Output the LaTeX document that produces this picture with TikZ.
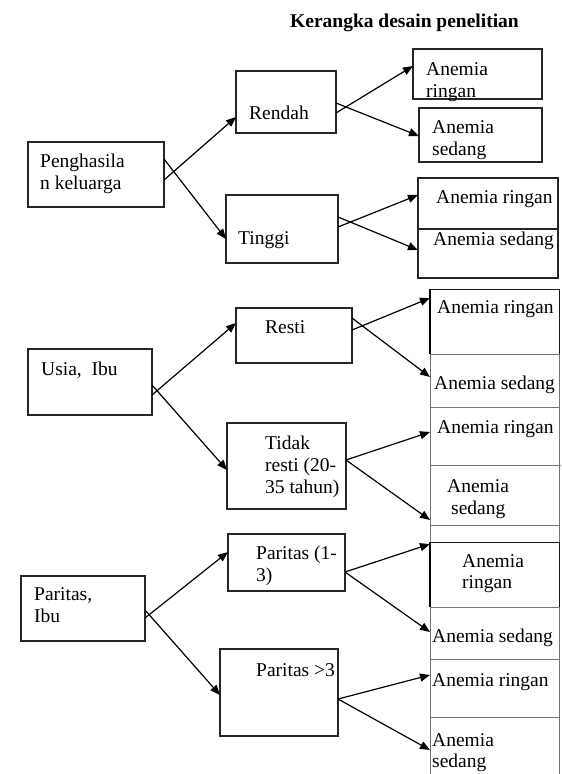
\documentclass[tikz,border=0pt]{standalone}
\usepackage{fontspec}
\setmainfont{Liberation Serif}
\usetikzlibrary{arrows.meta}
\begin{document}
\begin{tikzpicture}[x=1pt,y=-1pt,
  box/.style={draw=black!85,line width=1.2pt,anchor=north west,inner sep=0pt,outer sep=0pt},
  cell/.style={draw=black!55,line width=0.9pt,anchor=north west,inner sep=0pt,outer sep=0pt,minimum width=129pt},
  blackcell/.style={cell,draw=black!90},
  thickedge/.style={line width=2pt,black},
  colline/.style={draw=black!55,line width=0.9pt},
  txt/.style={anchor=base west,inner sep=0pt,align=left,font=\fontsize{19.5}{22}\selectfont},
  arr/.style={-{Triangle[length=10pt,width=8pt]},line width=1.2pt,black}]
\useasboundingbox (0,0) rectangle (562,774);
\clip (0,0) rectangle (562,774);

% title
\node[txt,font=\fontsize{19.5}{22}\selectfont\bfseries] (title) at (290,27) {Kerangka desain penelitian};

% ---------- section 1 ----------
\node[box,minimum width=136pt,minimum height=65pt] (pen) at (28,142) {};
\node[box,minimum width=100pt,minimum height=62pt] (ren) at (236,71) {};
\node[box,minimum width=112pt,minimum height=68pt] (tin) at (226,195) {};
\node[box,minimum width=129pt,minimum height=50pt] (ar1) at (413,49) {};
\node[box,minimum width=123pt,minimum height=54pt] (as1) at (419,108) {};
\node[box,minimum width=140pt,minimum height=51pt] (ar2) at (418,178) {};
\node[box,minimum width=140pt,minimum height=49pt] (as2) at (418,229) {};

% (multi-line texts are placed by the baseline of their last line)
\node[txt] (tpen) at (40,189) {Penghasila\\n keluarga};
\node[txt] (tren) at (249,119) {Rendah};
\node[txt] (ttin) at (238,244) {Tinggi};
\node[txt] (tar1) at (426,97) {Anemia\\ringan};
\node[txt] (tas1) at (432,155) {Anemia\\sedang};
\node[txt] (tar2) at (436,203) {Anemia ringan};
\node[txt] (tas2) at (433,245) {Anemia sedang};

\draw[arr] (pen.east |- 0,180) -- (ren.west |- 0,117);
\draw[arr] (pen.east |- 0,159) -- (tin.west |- 0,239);
\draw[arr] (ren.east |- 0,113) -- (ar1.west |- 0,66);
\draw[arr] (ren.east |- 0,103) -- (as1.west |- 0,136);
\draw[arr] (tin.east |- 0,227) -- (ar2.west |- 0,195);
\draw[arr] (tin.east |- 0,217) -- (as2.west |- 0,250);

% ---------- section 2 ----------
\node[box,minimum width=124pt,minimum height=66pt] (usia) at (28,349) {};
\node[box,minimum width=116pt,minimum height=55pt] (res) at (236,308) {};
\node[box,minimum width=119pt,minimum height=86pt] (tid) at (227,423) {};

\node[blackcell,minimum height=65pt] (ar3) at (430,289) {};
\node[cell,minimum height=53pt] (as3) at (430,354) {};
\node[cell,minimum height=58pt] (ar4) at (430,407) {};
\node[cell,minimum height=60pt] (as4) at (430,465) {};
\draw[thickedge] (ar3.north west) -- (ar3.south west);
\draw[colline] (as4.north east) -- ++(2,0);

\node[txt] (tusia) at (41,375) {Usia,\ \ Ibu};
\node[txt] (tres) at (265,333) {Resti};
\node[txt] (ttid) at (265,493) {Tidak\\resti (20-\\35 tahun)};
\node[txt] (tar3) at (437,313) {Anemia ringan};
\node[txt] (tas3) at (434,389) {Anemia sedang};
\node[txt] (tar4) at (437,433) {Anemia ringan};
\node[txt] (tas4) at (447,514) {Anemia\\\hspace*{4pt}sedang};

\draw[arr] (usia.east |- 0,395) -- (res.west |- 0,323);
\draw[arr] (usia.east |- 0,385) -- (tid.west |- 0,470);
\draw[arr] (res.east |- 0,330) -- (ar3.west |- 0,298);
\draw[arr] (res.east |- 0,318) -- (as3.west |- 0,377);
\coordinate (tidout) at (tid.east |- 0,460);
\draw[arr] (tidout) -- (ar4.west |- 0,432);
\draw[arr] (tidout) -- (as4.west |- 0,520);

% ---------- section 3 ----------
\node[box,minimum width=124pt,minimum height=65pt] (pib) at (21,576) {};
\node[box,minimum width=117pt,minimum height=57pt] (par1) at (228,534) {};
\node[box,minimum width=118pt,minimum height=87pt] (par2) at (220,649) {};

\draw[colline] (as4.south west) -- (430,542);
\draw[colline] (as4.south east) -- (559,542);
\node[blackcell,minimum height=65pt] (ar5) at (430,542) {};
\node[cell,minimum height=52pt] (as5) at (430,607) {};
\node[cell,minimum height=58pt] (ar6) at (430,659) {};
\node[cell,minimum height=62pt] (as6) at (430,717) {};
\draw[thickedge] (ar5.north west) -- (ar5.south west);

\node[txt] (tpib) at (34,622) {Paritas,\\Ibu};
\node[txt] (tpar1) at (256,581) {Paritas (1-\\3)};
\node[txt] (tpar2) at (256,676) {Paritas >3};
\node[txt,font=\fontsize{19.5}{21}\selectfont] (tar5) at (462,588) {Anemia\\ringan};
\node[txt] (tas5) at (432,642) {Anemia sedang};
\node[txt] (tar6) at (432,686) {Anemia ringan};
\node[txt,font=\fontsize{19.5}{21}\selectfont] (tas6) at (432,767) {Anemia\\sedang};

\draw[arr] (pib.east |- 0,618) -- (par1.west |- 0,552);
\draw[arr] (pib.east |- 0,610) -- (par2.west |- 0,695);
\coordinate (p1out) at (par1.east |- 0,572);
\draw[arr] (p1out) -- (ar5.west |- 0,544);
\draw[arr] (p1out) -- (as5.west |- 0,632);
\coordinate (p2out) at (par2.east |- 0,699);
\draw[arr] (p2out) -- (ar6.west |- 0,675);
\draw[arr] (p2out) -- (as6.west |- 0,750);
\end{tikzpicture}
\end{document}
